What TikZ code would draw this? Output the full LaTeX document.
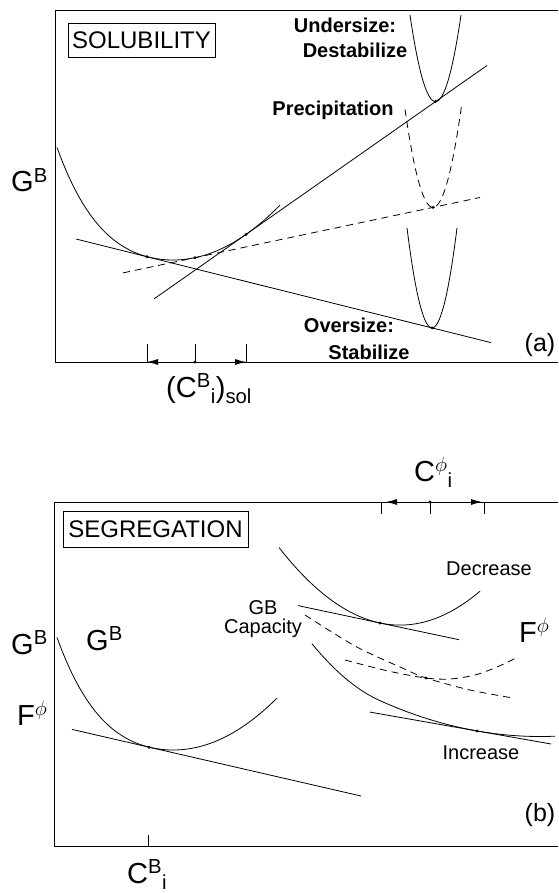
\documentclass[tikz,border=0pt]{standalone}
\usepackage{fontspec}
\setmainfont{Liberation Sans}
\usetikzlibrary{arrows.meta,calc}

\begin{document}
\begin{tikzpicture}[x=1pt, y=-1pt,
        frame/.style={line width=1pt},
        curve/.style={line width=0.8pt},
        dashcurve/.style={curve, dash pattern=on 7pt off 5pt},
        titlebox/.style={rectangle, draw, line width=0.6pt, inner sep=0pt,
            font=\fontsize{24}{26}\selectfont},
        sym/.style={inner sep=0pt, anchor=base west, font=\fontsize{29}{32}\selectfont},
        tag/.style={inner sep=0pt, font=\bfseries\fontsize{20}{22}\selectfont},
        note/.style={inner sep=0pt, align=center, font=\fontsize{20}{19}\selectfont},
        span/.style={-{Latex[length=11pt,width=6pt]}, line width=0.8pt},
        declare function={gbl(\x)=max(173-\x,0)/116;
            gb(\x)=260-0.48*((\x-173)/10)*((\x-173)/10)-48*gbl(\x)*gbl(\x)*gbl(\x)*gbl(\x);
            dec(\x)=625.1-0.53*((\x-400)/10)*((\x-400)/10);
            incl(\x)=max(380-\x,0)/68;
            inc(\x)=736.5-0.14*((\x-540)/10)*((\x-540)/10)-20*incl(\x)*incl(\x);}
    ]
    \useasboundingbox (0,0) rectangle (558,893);

    % (a) solubility
    \draw[frame] (558,11) -- (55,11) -- (55,362) -- (558,362);
    \node[titlebox, minimum width=147pt, minimum height=34pt] (solbox) at (141.5,40) {SOLUBILITY};
    \node[sym] (gba) at (11,192) {G\textsuperscript{B}};

    \coordinate (tA) at (147,256.76);
    \coordinate (tB) at (195,257.68);
    \coordinate (tC) at (246,234.42);
    \coordinate (vUnder) at (435.5,101.6);
    \coordinate (vPrec) at (433,207.4);
    \coordinate (vOver) at (432,327.9);

    \draw[curve] plot[domain=57:280, samples=90, smooth] (\x,{gb(\x)});
    \draw[curve] (76,239.0) -- (tA) -- (vOver) -- (491,342.6);
    \draw[dashcurve] (123,272.9) -- (tB) -- (vPrec) -- (480,197.5);
    \draw[curve] (154,298.9) -- (tC) -- (vUnder) -- (487,65.5);

    \draw[curve] plot[domain=410:461, samples=40, smooth] (\x,{101.6-0.133*(\x-435.5)*(\x-435.5)});
    \draw[dashcurve] plot[domain=405:462, samples=40, smooth] (\x,{207.4-0.125*(\x-433)*(\x-433)});
    \draw[curve] plot[domain=407:457, samples=40, smooth] (\x,{327.9-0.16*(\x-432)*(\x-432)});

    \foreach \p in {tA,tB,tC,vUnder,vPrec,vOver}
        \fill (\p) circle (1.6pt);

    \node[tag] (under) at (345,25) {Undersize:};
    \node[tag] (destab) at (355,50) {Destabilize};
    \node[tag] (prec) at (333,110) {Precipitation};
    \node[tag] (over) at (349,325) {Oversize:};
    \node[tag] (stab) at (369,352) {Stabilize};
    \node[inner sep=0pt, font=\fontsize{25}{27}\selectfont] (lbla) at (540,345) {(a)};

    % solubility range on the axis
    \coordinate (solmid) at (195,362);
    \coordinate (sollo) at (147,362);
    \coordinate (solhi) at (246,362);
    \foreach \c in {sollo,solmid,solhi}
        \draw[curve] (\c) -- ++(0,-18);
    \draw[span] (solmid) -- (sollo);
    \draw[span] (solmid) -- (solhi);
    \fill (solmid) circle (1.6pt);
    \node[sym] (csol) at (166,397) {(C\textsuperscript{B}\textsubscript{i})\textsubscript{sol}};

    % (b) segregation
    \draw[frame] (558,502) -- (54,502) -- (54,846) -- (558,846);
    \node[titlebox, minimum width=185pt, minimum height=36pt] (segbox) at (155.5,529) {SEGREGATION};
    \node[sym] (gbb) at (11,654) {G\textsuperscript{B}};
    \node[sym] (fphl) at (17,725) {F\textsuperscript{$\phi$}};
    \node[sym] (gbin) at (86,650) {G\textsuperscript{B}};

    \coordinate (tL) at (149,747.15);
    \coordinate (tD) at (380,623.0);
    \coordinate (tI) at (477,730.94);
    \coordinate (tF) at (426,678);

    \draw[curve] plot[domain=57:277, samples=90, smooth] (\x,{gb(\x)+490});
    \draw[curve] (72,729.4) -- (tL) -- (361,796.0);

    \draw[curve] plot[domain=279:480, samples=60, smooth] (\x,{dec(\x)});
    \draw[curve] (298,605.6) -- (tD) -- (459,639.7);

    \draw[curve] plot[domain=312:555, samples=80, smooth] (\x,{inc(\x)});
    \draw[curve] (370,712.1) -- (tI) -- (551,744.0);

    \draw[dashcurve] plot[smooth] coordinates {(305,615) (355,646) (400,667) (tF) (470,690) (513,698)};
    \draw[dashcurve] plot[smooth] coordinates {(345,660) (388,671) (tF) (450,679) (475,675) (497,667) (516,658)};

    \foreach \p in {tL,tD,tI,tF}
        \fill (\p) circle (1.6pt);

    \node[note] (gbcap) at (263,619) {GB\\Capacity};
    \node[note] (decr) at (489,569) {Decrease};
    \node[note] (incr) at (481,753) {Increase};
    \node[sym] (fphr) at (519,642) {F\textsuperscript{$\phi$}};
    \node[inner sep=0pt, font=\fontsize{25}{27}\selectfont] (lblb) at (540,815) {(b)};

    % phase range on the top edge
    \coordinate (phmid) at (430,502);
    \coordinate (phlo) at (381,502);
    \coordinate (phhi) at (484,502);
    \foreach \c in {phlo,phmid,phhi}
        \draw[curve] (\c) -- ++(0,12);
    \draw[span] (phmid) -- (386,502);
    \draw[span] (phmid) -- (482,502);
    \fill (phmid) circle (1.6pt);
    \node[sym] (cphi) at (414,481) {C\textsuperscript{$\phi$}\textsubscript{i}};

    \coordinate (cbt) at (148,846);
    \draw[curve] (cbt) -- ++(0,-11);
    \node[sym] (cbi) at (127,883) {C\textsuperscript{B}\textsubscript{i}};
\end{tikzpicture}
\end{document}
